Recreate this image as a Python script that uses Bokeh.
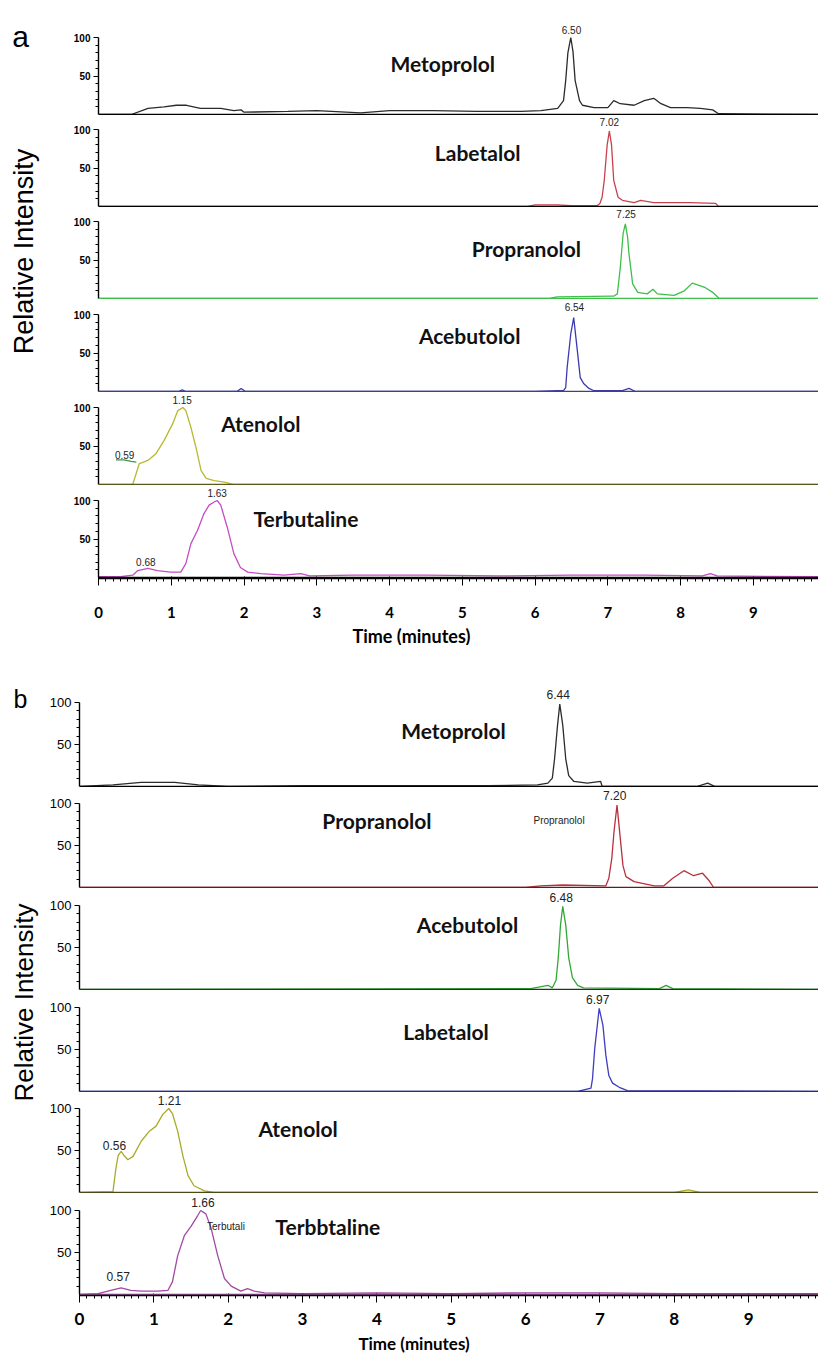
import math
from bokeh.plotting import figure
from bokeh.models import Range1d, LinearAxis, FixedTicker, Span, Label
from bokeh.core.properties import value
from bokeh.layouts import row, column
from bokeh.embed import file_html
from bokeh.resources import INLINE

# ---------------- DATA: panel a ----------------
a_names = ["Metoprolol", "Labetalol", "Propranolol", "Acebutolol", "Atenolol", "Terbutaline"]

a_meto_t = [0, 0.45, 0.68, 0.90, 1.07, 1.21, 1.40, 1.68, 1.86, 1.96, 2.0, 2.6, 3.0, 3.6, 4.0, 4.6, 5.2, 5.8,
            6.08, 6.31, 6.39, 6.42, 6.45, 6.49, 6.52, 6.55, 6.61, 6.65, 6.81, 7.0, 7.08, 7.17, 7.36, 7.50,
            7.63, 7.73, 7.86, 8.09, 8.27, 8.44, 8.52, 9.95]
a_meto_i = [0, 0, 8, 10, 12, 12, 8, 8, 5, 6, 3, 4, 5, 2, 5, 5, 4, 4,
            5, 8, 18, 44, 80, 100, 82, 44, 18, 12, 9, 9, 18, 14, 12, 18,
            21, 14, 9, 9, 8, 6, 1, 0]

a_labe_t = [0, 5.9, 6.0, 6.3, 6.5, 6.85, 6.89, 6.92, 6.95, 6.99, 7.02, 7.05, 7.08, 7.14, 7.2, 7.36, 7.45,
            7.63, 8.13, 8.48, 8.52, 9.95]
a_labe_i = [0, 0, 2, 2, 1, 1, 4, 12, 34, 80, 98, 80, 34, 12, 8, 5, 8, 5, 5, 4, 0, 0]

a_prop_t = [0, 6.2, 6.3, 7.05, 7.08, 7.13, 7.17, 7.21, 7.24, 7.27, 7.29, 7.34, 7.41, 7.54, 7.62, 7.68,
            7.91, 8.05, 8.16, 8.25, 8.34, 8.44, 8.53, 9.95]
a_prop_i = [0, 0, 2, 3, 3, 6, 40, 85, 97, 80, 58, 19, 8, 6, 12, 6, 4, 10, 20, 17, 14, 8, 0, 0]

a_aceb_t = [0, 1.1, 1.15, 1.2, 1.9, 1.96, 2.02, 6.0, 6.3, 6.39, 6.42, 6.44, 6.49, 6.53, 6.58, 6.62, 6.67,
            6.74, 6.81, 7.2, 7.29, 7.38, 9.95]
a_aceb_i = [0, 0, 2, 0, 0, 4, 0, 0, 1, 1, 5, 31, 75, 96, 53, 18, 10, 4, 1, 1, 4, 0, 0]

a_aten_t = [0, 0.47, 0.56, 0.62, 0.69, 0.79, 0.90, 1.02, 1.09, 1.16, 1.20, 1.27, 1.34, 1.41, 1.48, 1.59,
            1.73, 1.85, 9.95]
a_aten_i = [0, 0, 27, 29, 32, 40, 57, 79, 96, 100, 96, 74, 48, 18, 8, 5, 3, 0, 0]
a_aten_tail_t = [0.24, 0.35, 0.45, 0.52]
a_aten_tail_i = [32, 32, 30, 29]

a_terb_t = [0, 0.3, 0.47, 0.54, 0.68, 0.81, 0.99, 1.13, 1.20, 1.27, 1.36, 1.45, 1.52, 1.59, 1.63, 1.68,
            1.77, 1.86, 1.95, 2.05, 2.23, 2.55, 2.78, 2.9, 3.5, 4.5, 5.5, 6.5, 7.5, 8.3, 8.41, 8.5, 9.95]
a_terb_i = [1, 1, 3, 9, 12, 9, 7, 7, 18, 44, 61, 83, 94, 98, 100, 94,
            65, 31, 13, 7, 5, 3, 5, 2, 3, 3, 2, 3, 3, 2, 5, 2, 1]

a_peaks = [["6.50"], ["7.02"], ["7.25"], ["6.54"], ["1.15", "0.59"], ["1.63", "0.68"]]

# ---------------- DATA: panel b ----------------
b_names = ["Metoprolol", "Propranolol", "Acebutolol", "Labetalol", "Atenolol", "Terbbtaline"]
b_small_names = ["", "Propranolol", "", "", "", "Terbutali"]

b_meto_t = [0, 0.45, 0.83, 1.28, 1.6, 2.0, 3.0, 4.0, 5.5, 6.16, 6.30, 6.36, 6.39, 6.43, 6.46, 6.50,
            6.54, 6.58, 6.65, 6.83, 7.01, 7.03, 8.3, 8.45, 8.55, 9.95]
b_meto_i = [0, 2, 5, 5, 2, 0, 1, 1, 1, 2, 4, 10, 33, 73, 98, 73, 33, 13, 6, 4, 6, 0, 0, 4, 0, 0]

b_prop_t = [0, 6.0, 6.2, 6.5, 7.08, 7.12, 7.16, 7.19, 7.23, 7.27, 7.31, 7.35, 7.46, 7.73, 7.86, 7.98,
            8.13, 8.26, 8.38, 8.47, 8.53, 9.95]
b_prop_i = [0, 0, 2, 3, 2, 11, 35, 67, 98, 62, 26, 13, 7, 2, 2, 11, 20, 14, 17, 8, 0, 0]

b_aceb_t = [0, 6.07, 6.30, 6.36, 6.41, 6.44, 6.47, 6.50, 6.54, 6.58, 6.63, 6.70, 6.78, 7.8, 7.89,
            7.98, 9.95]
b_aceb_i = [0, 1, 5, 2, 11, 38, 77, 99, 77, 38, 14, 5, 2, 1, 5, 1, 0]

b_labe_t = [0, 6.7, 6.88, 6.90, 6.93, 6.97, 6.99, 7.04, 7.08, 7.12, 7.17, 7.26, 7.37, 9.95]
b_labe_i = [0, 0, 4, 15, 51, 83, 99, 79, 43, 19, 10, 5, 1, 0]

b_aten_t = [0, 0.45, 0.49, 0.52, 0.56, 0.60, 0.65, 0.72, 0.83, 0.94, 1.03, 1.12, 1.20, 1.25, 1.32,
            1.39, 1.46, 1.54, 1.68, 1.81, 8.0, 8.19, 8.35, 9.95]
b_aten_i = [0, 1, 29, 44, 49, 44, 39, 43, 61, 73, 79, 93, 100, 94, 73, 44, 20, 8, 2, 0, 0, 3, 0, 0]

b_terb_t = [0, 0.25, 0.42, 0.56, 0.69, 0.83, 1.05, 1.19, 1.25, 1.32, 1.41, 1.50, 1.59, 1.63, 1.70,
            1.77, 1.86, 1.95, 2.04, 2.17, 2.26, 2.35, 2.49, 3.0, 4.0, 5.0, 6.0, 7.0, 8.0, 9.0, 9.95]
b_terb_i = [0, 1, 5, 8, 5, 4, 4, 5, 15, 46, 70, 81, 94, 100, 96, 79, 46, 19, 10, 4, 7, 4, 2,
            1, 2, 1, 2, 2, 1, 1, 1]

b_peaks = [["6.44"], ["7.20"], ["6.48"], ["6.97"], ["1.21", "0.56"], ["1.66", "0.57"]]

x_ticks = [0, 1, 2, 3, 4, 5, 6, 7, 8, 9]
x_minor = [i / 10 for i in range(0, 100)]
y_ticks = [50, 100]
y_minor = [10, 20, 30, 40, 60, 70, 80, 90]
x_title = "Time (minutes)"
y_title = "Relative Intensity"

# ---------------- LAYOUT / STYLE ----------------
LEFT_W = 43
FIG_W = 818 - LEFT_W

A = dict(
    pxpu=0.77, xend=9.894, min_left=55,
    heights=[115, 92, 92, 93, 93, 93], bottom_border=47,
    colors=["#2b2b2b", "#c8424e", "#3fbf4a", "#3b3bb0", "#b8b832", "#c44cc4"],
    base_colors=["black", "black", "#3fbf4a", "#44446a", "#5a5a20", "black"],
    tick_font="10px", tick_weight="bold", peak_font="10px",
    name_pos=[(4.73, 66), (5.21, 70), (5.88, 65), (5.10, 73), (2.23, 79), (2.85, 77)],
    name_font="21px",
    sec_peak_pos={"0.59": (0.36, 38), "0.68": (0.65, 20)},
    xlab_font="15px", xlab_standoff=21,
    time_h=20, time_mid=10, time_x=4.3, time_font="18px",
)
B = dict(
    pxpu=0.84, xend=9.94, min_left=36,
    heights=[142, 101, 102, 102, 101, 102], bottom_border=37,
    colors=["#2b2b2b", "#b8303e", "#33a833", "#3d3dc0", "#aaaa2a", "#a348a3"],
    base_colors=["black", "#5a2020", "#1e3a1e", "#30305a", "#4a4a1a", "#6a3a6a"],
    tick_font="13px", tick_weight="normal", peak_font="12px",
    name_pos=[(5.03, 67), (4.0, 80), (5.22, 77), (4.93, 71), (2.94, 76), (3.34, 81)],
    small_name_pos=[None, (6.45, 80), None, None, None, (1.97, 81)],
    name_font="21px",
    sec_peak_pos={"0.56": (0.47, 56), "0.57": (0.52, 22)},
    xlab_font="17px", xlab_standoff=10,
    time_h=22, time_mid=11, time_x=4.5, time_font="17px",
)

NAME_FONT = "Lato"
NUM_FONT = "Liberation Sans"


def bare(width, height, xr, yr, min_left=0):
    p = figure(width=width, height=height, title=None, x_range=xr, y_range=yr,
               min_border_left=min_left, min_border_right=0, min_border_top=0, min_border_bottom=0,
               toolbar_location=None, output_backend="svg",
               x_axis_location=None, y_axis_location=None)
    p.grid.visible = False
    p.outline_line_color = None
    p.background_fill_color = "white"
    p.border_fill_color = "white"
    return p


def make_sub(cfg, k, t, inten, name, peaks, bottom, extra=None, small_name=None):
    pxpu = cfg["pxpu"]
    fh = cfg["heights"][k]
    bb = cfg["bottom_border"] if bottom else 0
    p = bare(FIG_W, fh + bb, Range1d(0, cfg["xend"]),
             Range1d(-1.0 / pxpu, (fh - 1.0) / pxpu), cfg["min_left"])
    p.min_border_bottom = bb

    yax = LinearAxis(bounds=(0, 100), ticker=FixedTicker(ticks=y_ticks, minor_ticks=y_minor))
    yax.axis_line_color = "black"
    yax.axis_line_width = 1.4
    yax.major_tick_out = 5
    yax.major_tick_in = 0
    yax.minor_tick_out = 3
    yax.minor_tick_in = 0
    yax.major_tick_line_color = "black"
    yax.minor_tick_line_color = "black"
    yax.major_label_text_font = NUM_FONT
    yax.major_label_text_font_size = cfg["tick_font"]
    yax.major_label_text_font_style = cfg["tick_weight"]
    yax.major_label_text_color = "black"
    yax.major_label_standoff = 3
    p.add_layout(yax, "left")

    p.add_layout(Span(location=0, dimension="width", line_color=cfg["base_colors"][k], line_width=1.6))

    if bottom:
        xax = LinearAxis(ticker=FixedTicker(ticks=x_ticks, minor_ticks=x_minor))
        xax.axis_line_color = "black"
        xax.axis_line_width = 1.4
        xax.major_tick_out = 7
        xax.major_tick_in = 2
        xax.minor_tick_out = 3
        xax.minor_tick_in = 1
        xax.major_label_text_font = NAME_FONT
        xax.major_label_text_font_size = cfg["xlab_font"]
        xax.major_label_text_font_style = "bold"
        xax.major_label_text_color = "black"
        xax.major_label_standoff = cfg["xlab_standoff"]
        p.add_layout(xax, "below")

    col = cfg["colors"][k]
    p.line(t, inten, line_color=col, line_width=1.3)
    if extra is not None:
        p.line(extra[0], extra[1], line_color="#3a9a4a", line_width=1.3)

    for j, lab in enumerate(peaks):
        if j == 0:
            px, py = float(lab), 110
        else:
            px, py = cfg["sec_peak_pos"][lab]
        p.add_layout(Label(x=px, y=py, text=lab, text_font=NUM_FONT,
                           text_font_size=cfg["peak_font"], text_align="center",
                           text_baseline="middle", text_color="#222222"))
    nx, ny = cfg["name_pos"][k]
    p.add_layout(Label(x=nx, y=ny, text=name, text_font=NAME_FONT, text_font_size=cfg["name_font"],
                       text_font_style="bold", text_align="center", text_baseline="middle",
                       text_color="#111111"))
    if small_name:
        sx, sy = cfg["small_name_pos"][k]
        p.add_layout(Label(x=sx, y=sy, text=small_name, text_font=NUM_FONT, text_font_size="10px",
                           text_align="center", text_baseline="middle", text_color="#222222"))
    return p


def make_time(cfg):
    h = cfg["time_h"]
    p = bare(FIG_W, h, Range1d(0, cfg["xend"]), Range1d(0, h), cfg["min_left"])
    p.text(x=[cfg["time_x"]], y=[cfg["time_mid"]], text=[x_title], text_font=value(NAME_FONT),
           text_font_size=value(cfg["time_font"]), text_font_style="bold",
           text_align="center", text_baseline="middle", text_color="black")
    return p


def make_left(height, letter, letter_y, letter_size, ylab_y, ylab_size):
    p = bare(LEFT_W, height, Range1d(0, LEFT_W), Range1d(0, height))
    p.add_layout(Label(x=20, y=height - letter_y, text=letter, text_font=NUM_FONT,
                       text_font_size=letter_size, text_align="center", text_baseline="middle",
                       text_color="black"))
    p.add_layout(Label(x=23, y=height - ylab_y, text=y_title, text_font=NUM_FONT,
                       text_font_size=ylab_size, text_align="center", text_baseline="middle",
                       angle=math.pi / 2, text_color="black"))
    return p


a_series = [(a_meto_t, a_meto_i), (a_labe_t, a_labe_i), (a_prop_t, a_prop_i),
            (a_aceb_t, a_aceb_i), (a_aten_t, a_aten_i), (a_terb_t, a_terb_i)]
b_series = [(b_meto_t, b_meto_i), (b_prop_t, b_prop_i), (b_aceb_t, b_aceb_i),
            (b_labe_t, b_labe_i), (b_aten_t, b_aten_i), (b_terb_t, b_terb_i)]

a_figs = []
for k, (t, i) in enumerate(a_series):
    extra = (a_aten_tail_t, a_aten_tail_i) if k == 4 else None
    a_figs.append(make_sub(A, k, t, i, a_names[k], a_peaks[k], k == 5, extra=extra))
a_figs.append(make_time(A))
b_figs = []
for k, (t, i) in enumerate(b_series):
    b_figs.append(make_sub(B, k, t, i, b_names[k], b_peaks[k], k == 5, small_name=b_small_names[k]))
b_figs.append(make_time(B))

ha = sum(A["heights"]) + A["bottom_border"] + A["time_h"]
hb = sum(B["heights"]) + B["bottom_border"] + B["time_h"]
left_a = make_left(ha, "a", 35.5, "30px", 251, "27px")
left_b = make_left(hb, "b", 53, "25px", 357, "26px")

layout = column(row(left_a, column(*a_figs, spacing=0), spacing=0),
                row(left_b, column(*b_figs, spacing=0), spacing=0), spacing=0)

open("out.html", "w").write(file_html(layout, INLINE))
